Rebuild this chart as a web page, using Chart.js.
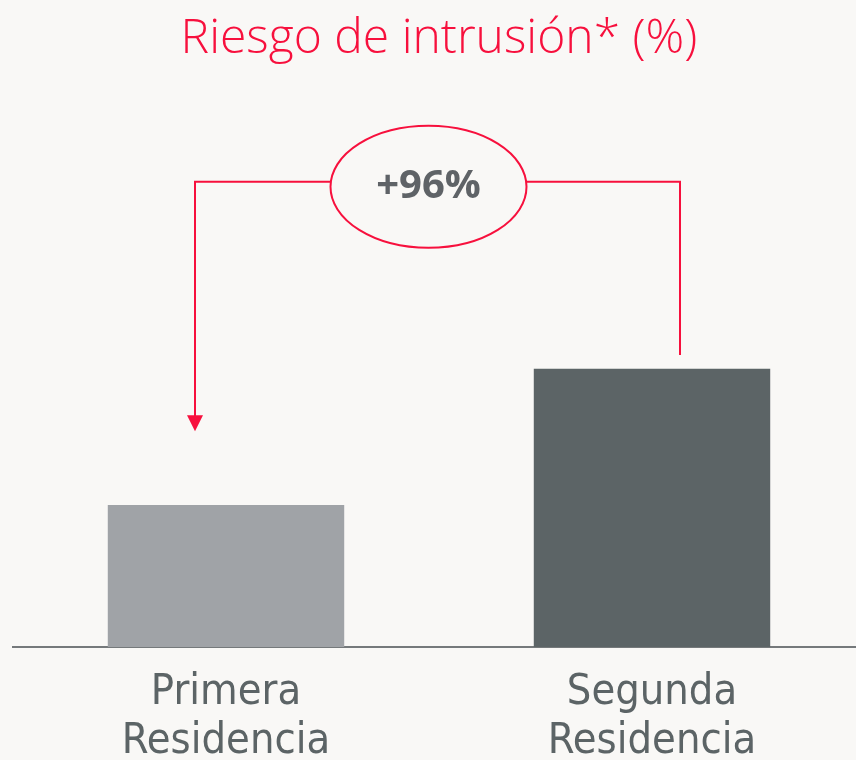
<!DOCTYPE html>
<html>
<head>
<meta charset="utf-8">
<script src="https://cdn.jsdelivr.net/npm/chart.js@4/dist/chart.umd.min.js"></script>
<style>
  html, body { margin: 0; padding: 0; background: #f9f8f6; overflow: hidden; }
  #wrap { width: 856px; height: 760px; overflow: hidden; }
</style>
</head>
<body>
<div id="wrap"><canvas id="riesgoChart" width="866" height="760"></canvas></div>
<script>
// datos del gráfico
const categorias = [['Primera', 'Residencia'], ['Segunda', 'Residencia']];
const riesgo = [2.5, 4.9];
const colores = ['#a0a3a7', '#5c6466'];
const variacion = '+96%';
const titulo = 'Riesgo de intrusión* (%)';

const ROJO = '#f7103d';
const FONDO = '#f9f8f6';

// flecha con elipse entre las dos barras
const bracketPlugin = {
  id: 'bracket',
  afterDatasetsDraw(chart) {
    const ctx = chart.ctx;
    const x = chart.scales.x;
    const y = chart.scales.y;
    const xl = x.getPixelForValue(0) - 31;
    const xr = x.getPixelForValue(1) + 28;
    const yTop = y.getPixelForValue(8.19);
    const yArrow = y.getPixelForValue(3.8);
    const yRight = y.getPixelForValue(5.14);
    const cx = 428.5, cy = yTop + 5;

    ctx.save();
    ctx.strokeStyle = ROJO;
    ctx.fillStyle = ROJO;
    ctx.lineWidth = 2;
    ctx.beginPath();
    ctx.moveTo(xl, yArrow - 14);
    ctx.lineTo(xl, yTop);
    ctx.lineTo(xr, yTop);
    ctx.lineTo(xr, yRight);
    ctx.stroke();

    // punta de flecha
    ctx.beginPath();
    ctx.moveTo(xl - 8, yArrow - 16);
    ctx.lineTo(xl + 8, yArrow - 16);
    ctx.lineTo(xl, yArrow);
    ctx.closePath();
    ctx.fill();

    // elipse
    ctx.beginPath();
    ctx.ellipse(cx, cy, 98, 61, 0, 0, Math.PI * 2);
    ctx.fillStyle = FONDO;
    ctx.fill();
    ctx.stroke();

    ctx.fillStyle = '#5f6367';
    ctx.font = 'bold 40px "Open Sans"';
    ctx.textAlign = 'center';
    ctx.textBaseline = 'middle';
    ctx.fillText(variacion, cx, cy);
    ctx.restore();
  }
};

const ctx = document.getElementById('riesgoChart').getContext('2d');
new Chart(ctx, {
  type: 'bar',
  data: {
    labels: categorias,
    datasets: [{
      data: riesgo,
      backgroundColor: colores,
      borderWidth: 0,
      barPercentage: 0.555,
      categoryPercentage: 1
    }]
  },
  options: {
    responsive: false,
    animation: false,
    layout: { padding: { left: 13, right: 1, top: 0, bottom: 0 } },
    scales: {
      x: {
        afterFit(scale) { scale.height = 113; },
        grid: { display: false },
        border: { display: true, color: '#75797b', width: 2 },
        ticks: {
          color: '#5c6466',
          padding: 14,
          font: { family: '"DejaVu Sans Condensed"', size: 43, lineHeight: 1.13 }
        }
      },
      y: {
        display: false,
        min: 0,
        max: 10
      }
    },
    plugins: {
      legend: { display: false },
      tooltip: { enabled: false },
      title: {
        display: true,
        text: titulo,
        color: ROJO,
        padding: { top: 9, bottom: 10 },
        font: { family: '"Open Sans"', weight: '300', size: 48, lineHeight: 1.25 }
      }
    }
  },
  plugins: [bracketPlugin]
});
</script>
</body>
</html>
